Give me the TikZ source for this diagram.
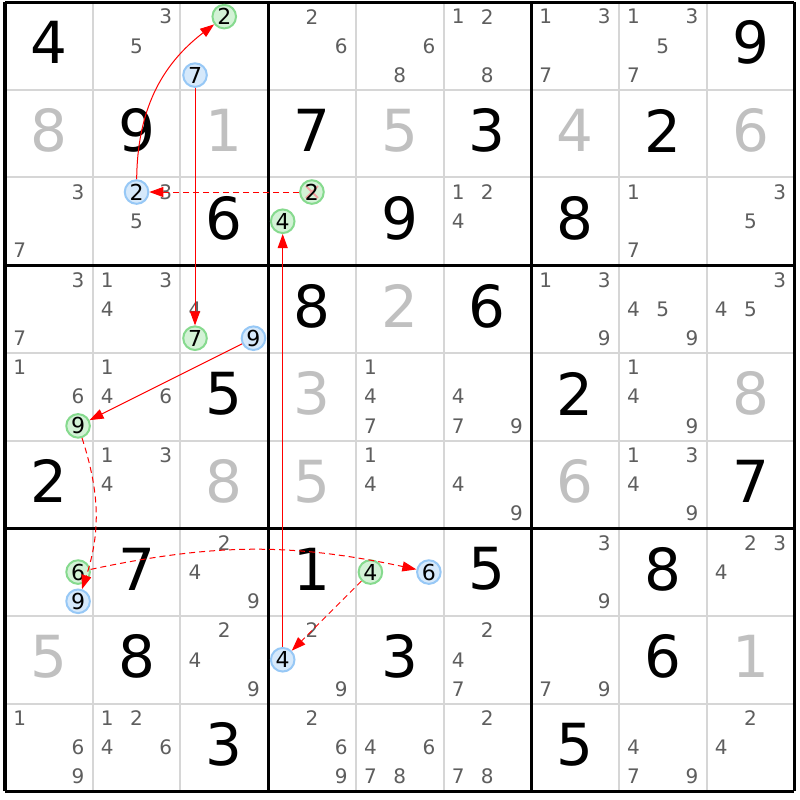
\documentclass[tikz,border=0pt]{standalone}
\usepackage{fontspec}
\setmainfont{DejaVu Sans}
\usetikzlibrary{arrows.meta}
\definecolor{candgray}{HTML}{5E5E5E}
\definecolor{solvedgray}{HTML}{C0C0C0}
\definecolor{gridgray}{HTML}{D6D6D6}
\definecolor{onfill}{HTML}{D3F2D6}
\definecolor{onedge}{HTML}{86DA8E}
\definecolor{offfill}{HTML}{D6E9FB}
\definecolor{offedge}{HTML}{97C8F6}
\definecolor{strikepink}{HTML}{F2A2A2}
\tikzset{
  given/.style={inner sep=0pt,font=\fontsize{29}{29}\selectfont},
  solved/.style={given,text=solvedgray},
  cand/.style={inner sep=0pt,text=candgray,font=\fontsize{10}{10}\selectfont},
  oncand/.style={circle,inner sep=0pt,minimum size=11.8pt,line width=1pt,
    draw=onedge,fill=onfill,font=\fontsize{11}{11}\selectfont},
  offcand/.style={oncand,draw=offedge,fill=offfill},
  struckcand/.style={oncand,path picture={
    \draw[strikepink,line width=1pt]
      ([shift={(-6,-6)}]path picture bounding box.center) -- ([shift={(6,6)}]path picture bounding box.center)
      ([shift={(-6,6)}]path picture bounding box.center) -- ([shift={(6,-6)}]path picture bounding box.center);}},
  link/.style={red,line width=0.5pt,-{Triangle[length=7pt,width=5pt]}},
  weaklink/.style={link,dash pattern=on 3pt off 2pt}
}
\begin{document}
\begin{tikzpicture}[x=0.5pt,y=-0.5pt]
\fill[white] (0,0) rectangle (800,800);
\useasboundingbox (0,0) rectangle (800,800);
\foreach \i in {0,...,9}{
  \draw[gridgray,line width=1pt] ({5+\i*87.7},2) -- ({5+\i*87.7},791.3);
  \draw[gridgray,line width=1pt] (5,{2+\i*87.7}) -- (794.3,{2+\i*87.7});
}
\foreach \i in {0,3,6,9}{
  \draw[line width=1.5pt] ({5+\i*87.7},2) -- ({5+\i*87.7},791.3);
  \draw[line width=1.5pt] (5,{2+\i*87.7}) -- (794.3,{2+\i*87.7});
}
\foreach \r/\c/\v in {1/1/4,1/9/9,2/2/9,2/4/7,2/6/3,2/8/2,3/3/6,3/5/9,3/7/8,
    4/4/8,4/6/6,5/3/5,5/7/2,6/1/2,6/9/7,7/2/7,7/4/1,7/6/5,7/8/8,
    8/2/8,8/5/3,8/8/6,9/3/3,9/7/5}
  \node[given] at ({5+(\c-.5)*87.7},{2+(\r-.5)*87.7-3}) {\v};
\foreach \r/\c/\v in {2/1/8,2/3/1,2/5/5,2/7/4,2/9/6,4/5/2,5/4/3,5/9/8,
    6/3/8,6/4/5,6/7/6,8/1/5,8/9/1}
  \node[solved] at ({5+(\c-.5)*87.7},{2+(\r-.5)*87.7-3}) {\v};
\foreach \r/\c/\ds in {1/2/{3,5},1/4/{2,6},1/5/{6,8},1/6/{1,2,8},1/7/{1,3,7},1/8/{1,3,5,7},
    3/1/{3,7},3/2/{3,5},3/6/{1,2,4},3/8/{1,7},3/9/{3,5},
    4/1/{3,7},4/2/{1,3,4},4/3/{4},4/7/{1,3,9},4/8/{4,5,9},4/9/{3,4,5},
    5/1/{1,6},5/2/{1,4,6},5/5/{1,4,7},5/6/{4,7,9},5/8/{1,4,9},
    6/2/{1,3,4},6/5/{1,4},6/6/{4,9},6/8/{1,3,4,9},
    7/3/{2,4,9},7/7/{3,9},7/9/{2,3,4},
    8/3/{2,4,9},8/4/{2,9},8/6/{2,4,7},8/7/{7,9},
    9/1/{1,6,9},9/2/{1,2,4,6},9/4/{2,6,9},9/5/{4,6,7,8},9/6/{2,7,8},9/8/{4,7,9},9/9/{2,4}}
  \foreach \n in \ds
    \node[cand] at ({5+(\c-1)*87.7+(mod(\n-1,3)+.5)*29.233},{2+(\r-1)*87.7+(floor((\n-1)/3)+.5)*29.233}) {\n};
\foreach \r/\c/\n/\s in {1/3/2/oncand,1/3/7/offcand,3/2/2/offcand,3/4/2/struckcand,3/4/4/oncand,
    4/3/7/oncand,4/3/9/offcand,5/1/9/oncand,7/1/6/oncand,7/1/9/offcand,
    7/5/4/oncand,7/5/6/offcand,8/4/4/offcand}
  \node[\s] (r\r c\c d\n) at ({5+(\c-1)*87.7+(mod(\n-1,3)+.5)*29.233},{2+(\r-1)*87.7+(floor((\n-1)/3)+.5)*29.233}) {\n};
\draw[link] (r3c2d2) to[bend left=26] (r1c3d2);
\draw[link] (r1c3d7) -- (r4c3d7);
\draw[link] (r4c3d9) -- (r5c1d9);
\draw[weaklink] (r5c1d9) to[bend left=18] (r7c1d9);
\draw[weaklink] (r7c1d6) to[bend left=12] (r7c5d6);
\draw[weaklink] (r7c5d4) -- (r8c4d4);
\draw[link] (r8c4d4) -- (r3c4d4);
\draw[weaklink] (r3c4d2) -- (r3c2d2);
\end{tikzpicture}
\end{document}
